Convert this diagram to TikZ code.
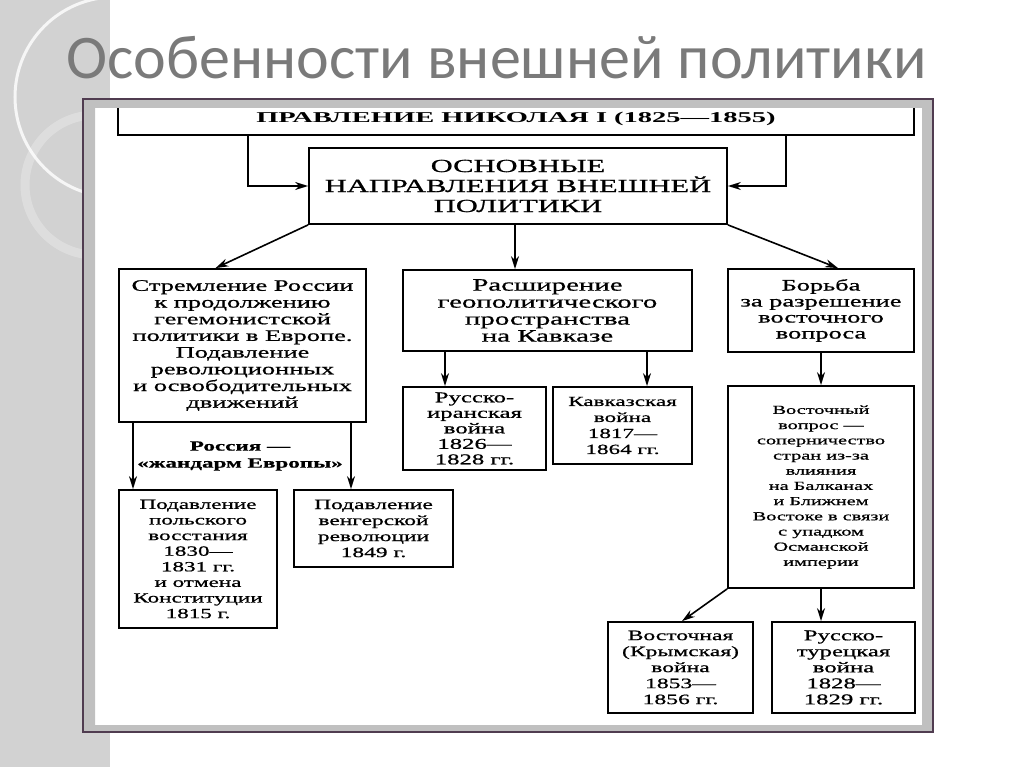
\documentclass[tikz,border=0pt]{standalone}
\usepackage{fontspec}
\usepackage{tikz}
\usetikzlibrary{arrows.meta,positioning,calc}
\setmainfont{Liberation Serif}
\newfontfamily\titlefont{Carlito}
\newfontfamily\schfont[FakeStretch=1.65, FakeBold=0.8]{Liberation Serif}
\newfontfamily\capfont[FakeStretch=1.9]{Liberation Serif Bold}
\newcommand{\fs}[2]{\fontsize{#1}{#2}\selectfont}
\definecolor{titlegray}{RGB}{122,122,122}
\definecolor{stripgray}{RGB}{210,210,210}
\definecolor{bandgray}{RGB}{192,192,192}
\definecolor{framepurple}{RGB}{80,60,80}

\begin{document}
\begin{tikzpicture}[x=1pt, y=-1pt,
    box/.style={rectangle, draw, line width=1.8pt, align=center, inner sep=0pt,
                font=\schfont\fs{16}{16.7}},
    arr/.style={-{Stealth[length=13pt,width=8pt]}, line width=1.6pt}
  ]
    \useasboundingbox (0,0) rectangle (1024,767);
    \fill[stripgray] (0,0) rectangle (110,767);
    \begin{scope}
      \clip (0,0) rectangle (110,767);
      \draw[white, line width=3pt, opacity=0.8] (115,97) circle (100);
      \draw[white, line width=9pt, opacity=0.25] (95,185) circle (70);
    \end{scope}

    \node[anchor=base west, text=titlegray, font=\titlefont\fs{62}{62}] (title) at (63,79) {Особенности внешней политики};

    \fill[white] (95,108) rectangle (922,725);

    \node[box, minimum width=796, minimum height=33, font=\capfont\fs{15}{15}] (ruler) at (516,118.5) {ПРАВЛЕНИЕ НИКОЛАЯ I (1825—1855)};
    \node[box, minimum width=418, minimum height=76, font=\schfont\fs{18.5}{20}] (dirs) at (518,186) {ОСНОВНЫЕ\\НАПРАВЛЕНИЯ ВНЕШНЕЙ\\ПОЛИТИКИ};

    \node[box, minimum width=247, minimum height=153] (europe) at (242.5,345.5) {Стремление России\\к продолжению\\гегемонистской\\политики в Европе.\\Подавление\\революционных\\и освободительных\\движений};
    \node[box, minimum width=289, minimum height=81, font=\schfont\fs{17.5}{17}] (caucasus) at (547.5,310.5) {Расширение\\геополитического\\пространства\\на Кавказе};
    \node[box, minimum width=186, minimum height=83, font=\schfont\fs{16}{16}] (eastq) at (821,310.5) {Борьба\\за разрешение\\восточного\\вопроса};

    \node[font=\schfont\bfseries\fs{14}{17}, align=center] (gendarme) at (240,456) {Россия —\\«жандарм Европы»};
    \node[box, minimum width=158, minimum height=138, font=\schfont\fs{14}{15.6}] (poland) at (198,559) {Подавление\\польского\\восстания\\1830—\\1831 гг.\\и отмена\\Конституции\\1815 г.};
    \node[box, minimum width=159, minimum height=77, font=\schfont\fs{14.2}{16}] (hungary) at (373.5,528.5) {Подавление\\венгерской\\революции\\1849 г.};

    \node[box, minimum width=143, minimum height=83, font=\schfont\fs{15}{15.5}] (persia) at (474.5,428.5) {Русско-\\иранская\\война\\1826—\\1828 гг.};
    \node[box, minimum width=139, minimum height=77, font=\schfont\fs{14}{16}] (kavwar) at (622.5,425.5) {Кавказская\\война\\1817—\\1864 гг.};

    \node[box, minimum width=186, minimum height=202, font=\schfont\fs{12.3}{15.2}] (rivalry) at (821,487) {Восточный\\вопрос —\\соперничество\\стран из-за\\влияния\\на Балканах\\и Ближнем\\Востоке в связи\\с упадком\\Османской\\империи};
    \node[box, minimum width=145, minimum height=91, font=\schfont\fs{14.3}{16}] (crimea) at (680.5,667.5) {Восточная\\(Крымская)\\война\\1853—\\1856 гг.};
    \node[box, minimum width=143, minimum height=91, font=\schfont\fs{15}{16}] (turkwar) at (843.5,667.5) {Русско-\\турецкая\\война\\1828—\\1829 гг.};

    \draw[arr] ([xshift=-268pt]ruler.south) |- (dirs.west);
    \draw[arr] ([xshift=270pt]ruler.south) |- (dirs.east);
    \draw[arr] (dirs.south west) -- ([xshift=-27pt]europe.north);
    \draw[arr] ([xshift=-3pt]dirs.south) -- ([xshift=-32.5pt]caucasus.north);
    \draw[arr] (dirs.south east) -- ([xshift=17pt]eastq.north);
    \draw[arr] ([xshift=-109.5pt]europe.south) -- ([xshift=-65pt]poland.north);
    \draw[arr] ([xshift=108.5pt]europe.south) -- ([xshift=-22.5pt]hungary.north);
    \draw[arr] ([xshift=-102.5pt]caucasus.south) -- ([xshift=-29.5pt]persia.north);
    \draw[arr] ([xshift=99.5pt]caucasus.south) -- ([xshift=24.5pt]kavwar.north);
    \draw[arr] (eastq.south) -- (rivalry.north);
    \draw[arr] (rivalry.south west) -- ([xshift=1.5pt]crimea.north);
    \draw[arr] (rivalry.south) -- ([xshift=-22.5pt]turkwar.north);

    \fill[bandgray, even odd rule] (83,99) rectangle (933,732) (95,108) rectangle (922,725);
    \draw[framepurple, line width=1.2pt] (83,99) rectangle (933,732);
  \end{tikzpicture}
\end{document}
